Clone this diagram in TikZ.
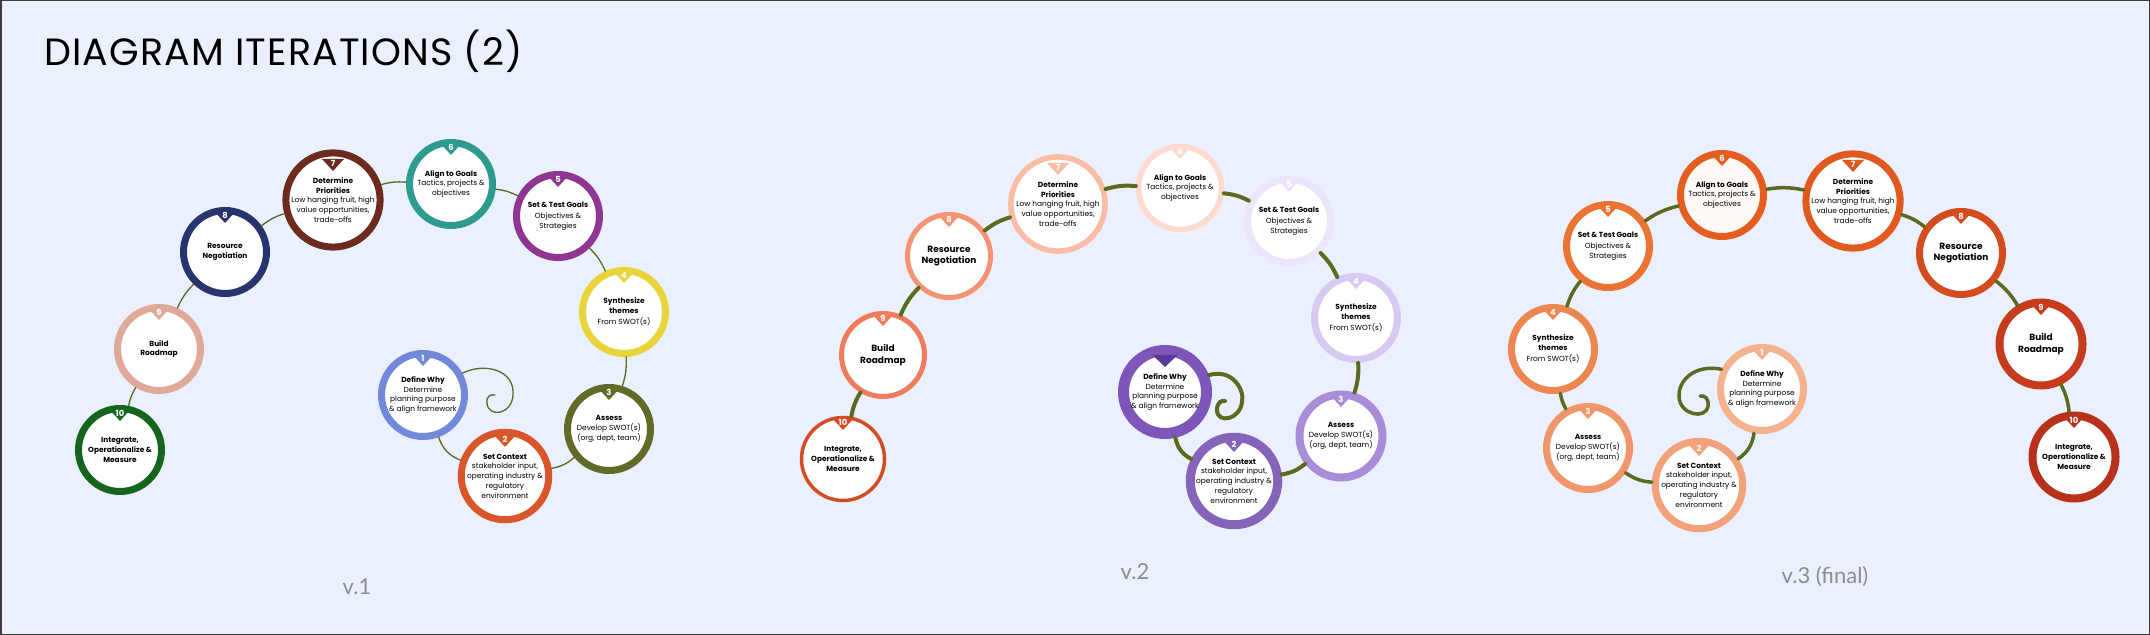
\documentclass[tikz,border=0pt]{standalone}
\usepackage{fontspec}
\setmainfont{Poppins}
\newfontfamily\verfont{Lato}
\newfontfamily\titlefont[LetterSpace=3]{Poppins}
\usetikzlibrary{calc}

\definecolor{bg}{HTML}{EAF0FD}
\definecolor{frame}{HTML}{3C3C3C}
\definecolor{vine}{HTML}{5A6A1E}
\definecolor{vergray}{HTML}{8C8C8C}
% v.1
\definecolor{one-1}{HTML}{7189D8}
\definecolor{one-2}{HTML}{D9562B}
\definecolor{one-3}{HTML}{5F6B27}
\definecolor{one-4}{HTML}{E9D43C}
\definecolor{one-5}{HTML}{8F3592}
\definecolor{one-6}{HTML}{2F9A8E}
\definecolor{one-7}{HTML}{6C2B1F}
\definecolor{one-8}{HTML}{28356C}
\definecolor{one-9}{HTML}{DEA999}
\definecolor{one-10}{HTML}{15651F}
% v.2
\definecolor{two-1}{HTML}{7D56B9}
\definecolor{two-1tab}{HTML}{5A3A98}
\definecolor{two-2}{HTML}{8463B9}
\definecolor{two-3}{HTML}{A98CD8}
\definecolor{two-4}{HTML}{D8C9F2}
\definecolor{two-5}{HTML}{ECE5FB}
\definecolor{two-6}{HTML}{FDDACD}
\definecolor{two-7}{HTML}{F9BCA5}
\definecolor{two-8}{HTML}{F59373}
\definecolor{two-9}{HTML}{EF7C5B}
\definecolor{two-10}{HTML}{D54B24}
% v.3
\definecolor{three-1}{HTML}{F5B28E}
\definecolor{three-2}{HTML}{F2A17A}
\definecolor{three-3}{HTML}{F0966B}
\definecolor{three-4}{HTML}{ED8650}
\definecolor{three-5}{HTML}{EA7433}
\definecolor{three-6}{HTML}{E45E1F}
\definecolor{three-7}{HTML}{E1591F}
\definecolor{three-8}{HTML}{D44B1E}
\definecolor{three-9}{HTML}{C53B1B}
\definecolor{three-10}{HTML}{B8311B}

\begin{document}
\begin{tikzpicture}[x=0.5pt,y=-0.5pt,
  stage/.style={circle,draw=#1,fill=white,line width=3.5pt,minimum size=41.5pt,inner sep=0pt,align=center,font=\fontsize{3.7}{4.85}\selectfont},
  big/.style={font=\fontsize{4.5}{5.9}\selectfont},
  num/.style={text=white,inner sep=0pt,font=\fontsize{4.2}{4.2}\selectfont\bfseries},
  vine/.style={draw=vine,line width=#1,line cap=round},
  vine/.default=0.65pt,
  ver/.style={text=vergray,font=\verfont\fontsize{11}{12}\selectfont}]
\useasboundingbox (0,0) rectangle (2150,635);
\fill[bg] (0,0) rectangle (2150,635);
\draw[frame,line width=0.75pt] (0.75,0.75) rectangle (2149.25,634.25);

\node[anchor=base west,inner sep=0pt,font=\titlefont\fontsize{19}{20}\selectfont] (title) at (44,66) {DIAGRAM ITERATIONS (2)};

% v.1
\node[stage=one-1] (a1) at (423,395) {\textbf{Define Why}\\Determine\\planning purpose\\\& align framework};
\node[stage=one-2] (a2) at (505,476) {\textbf{Set Context}\\stakeholder input,\\operating industry \&\\regulatory\\environment};
\node[stage=one-3] (a3) at (609,429) {\textbf{Assess}\\Develop SWOT(s)\\(org, dept, team)};
\node[stage=one-4] (a4) at (624,312) {\textbf{Synthesize}\\\textbf{themes}\\[1pt]From SWOT(s)};
\node[stage=one-5] (a5) at (558,216) {\textbf{Set \& Test Goals}\\[1pt]Objectives \&\\Strategies};
\node[stage=one-6] (a6) at (451,184) {\textbf{Align to Goals}\\Tactics, projects \&\\objectives};
\node[stage=one-7] (a7) at (333,200) {\textbf{Determine}\\\textbf{Priorities}\\Low hanging fruit, high\\value opportunities,\\trade-offs};
\node[stage=one-8] (a8) at (225,252) {\textbf{Resource}\\\textbf{Negotiation}};
\node[stage=one-9] (a9) at (159,349) {\textbf{Build}\\\textbf{Roadmap}};
\node[stage=one-10] (a10) at (120,450) {\textbf{Integrate,}\\\textbf{Operationalize \&}\\\textbf{Measure}};

\draw[vine] (a1) to[bend right=25] (a2) (a2) to[bend right=15] (a3) (a3) to[bend right=10] (a4)
  (a4) to[bend right=10] (a5) (a5) to[bend right=10] (a6) (a6) to[bend right=10] (a7)
  (a7) to[bend right=10] (a8) (a8) to[bend right=10] (a9) (a9) to[bend right=10] (a10);
\coordinate (a-end) at (495,395);
\draw[vine] (a1.29) .. controls (485,362) and (515,370) .. (513,395)
  .. controls (512,415) and (488,418) .. (487,403) .. controls (486,396) and (491,394) .. (a-end);
\foreach \n in {1,...,10} {
  \fill[one-\n] ($(a\n)+(-11,-41)$) -- ($(a\n)+(11,-41)$) -- ($(a\n)+(0,-29)$) -- cycle;
  \node[num] (a\n-no) at ($(a\n)+(0,-37)$) {\n};
}
\node[ver] (v1) at (357,587) {v.1};

% v.2
\node[stage=two-1,line width=5.5pt] (b1) at (1165,392) {\textbf{Define Why}\\Determine\\planning purpose\\\& align framework};
\node[stage=two-2,line width=4.5pt] (b2) at (1234,481) {\textbf{Set Context}\\stakeholder input,\\operating industry \&\\regulatory\\environment};
\node[stage=two-3,line width=4pt] (b3) at (1341,436) {\textbf{Assess}\\Develop SWOT(s)\\(org, dept, team)};
\node[stage=two-4] (b4) at (1356,318) {\textbf{Synthesize}\\\textbf{themes}\\[1pt]From SWOT(s)};
\node[stage=two-5] (b5) at (1289,221) {\textbf{Set \& Test Goals}\\[1pt]Objectives \&\\Strategies};
\node[stage=two-6,line width=2.75pt] (b6) at (1180,188) {\textbf{Align to Goals}\\Tactics, projects \&\\objectives};
\node[stage=two-7,line width=2.75pt] (b7) at (1058,204) {\textbf{Determine}\\\textbf{Priorities}\\Low hanging fruit, high\\value opportunities,\\trade-offs};
\node[stage=two-8,line width=2.5pt,big] (b8) at (949,256) {\textbf{Resource}\\\textbf{Negotiation}};
\node[stage=two-9,line width=2.5pt,big] (b9) at (883,355) {\textbf{Build}\\\textbf{Roadmap}};
\node[stage=two-10,line width=1.75pt] (b10) at (843,459) {\textbf{Integrate,}\\\textbf{Operationalize \&}\\\textbf{Measure}};

\draw[vine=2pt] (b1) to[bend right=25] (b2) (b2) to[bend right=15] (b3) (b3) to[bend right=10] (b4)
  (b4) to[bend right=10] (b5) (b5) to[bend right=10] (b6) (b6) to[bend right=10] (b7)
  (b7) to[bend right=10] (b8) (b8) to[bend right=10] (b9) (b9) to[bend right=10] (b10);
\coordinate (b-end) at (1225,401);
\draw[vine=2pt] (b1.21) .. controls (1232,368) and (1245,390) .. (1242,402)
  .. controls (1240,420) and (1217,424) .. (1217,410) .. controls (1217,403) and (1221,400) .. (b-end);
\fill[two-1tab] ($(b1)+(-12.5,-37)$) -- ($(b1)+(12.5,-37)$) -- ($(b1)+(0,-25)$) -- cycle;
\foreach \n in {2,...,10} {
  \fill[two-\n] ($(b\n)+(-11,-41)$) -- ($(b\n)+(11,-41)$) -- ($(b\n)+(0,-29)$) -- cycle;
  \node[num] (b\n-no) at ($(b\n)+(0,-37)$) {\n};
}
\node[ver] (v2) at (1135,572) {v.2};

% v.3
\node[stage=three-1] (c1) at (1762,389) {\textbf{Define Why}\\Determine\\planning purpose\\\& align framework};
\node[stage=three-2] (c2) at (1699,485) {\textbf{Set Context}\\stakeholder input,\\operating industry \&\\regulatory\\environment};
\node[stage=three-3] (c3) at (1588,448) {\textbf{Assess}\\Develop SWOT(s)\\(org, dept, team)};
\node[stage=three-4] (c4) at (1553,349) {\textbf{Synthesize}\\\textbf{themes}\\[1pt]From SWOT(s)};
\node[stage=three-5] (c5) at (1608,246) {\textbf{Set \& Test Goals}\\[1pt]Objectives \&\\Strategies};
\node[stage=three-6,fill={rgb,255:red,255;green,249;blue,246}] (c6) at (1722,195) {\textbf{Align to Goals}\\Tactics, projects \&\\objectives};
\node[stage=three-7] (c7) at (1853,201) {\textbf{Determine}\\\textbf{Priorities}\\Low hanging fruit, high\\value opportunities,\\trade-offs};
\node[stage=three-8,big] (c8) at (1961,253) {\textbf{Resource}\\\textbf{Negotiation}};
\node[stage=three-9,line width=4pt,big] (c9) at (2041,344) {\textbf{Build}\\\textbf{Roadmap}};
\node[stage=three-10,line width=4pt] (c10) at (2074,457) {\textbf{Integrate,}\\\textbf{Operationalize \&}\\\textbf{Measure}};

\draw[vine=1.75pt] (c1) to[bend left=23] (c2) (c2) to[bend left=15] (c3) (c3) to[bend left=10] (c4)
  (c4) to[bend left=10] (c5) (c5) to[bend left=10] (c6) (c6) to[bend left=10] (c7)
  (c7) to[bend left=10] (c8) (c8) to[bend left=10] (c9) (c9) to[bend left=10] (c10);
\coordinate (c-end) at (1700,396);
\draw[vine=1.75pt] (c1.154) .. controls (1695,364) and (1678,380) .. (1679,397)
  .. controls (1680,415) and (1706,420) .. (1708,406) .. controls (1709,398) and (1704,395) .. (c-end);
\foreach \n in {1,...,10} {
  \fill[three-\n] ($(c\n)+(-11,-41)$) -- ($(c\n)+(11,-41)$) -- ($(c\n)+(0,-29)$) -- cycle;
  \node[num] (c\n-no) at ($(c\n)+(0,-37)$) {\n};
}
\node[ver] (v3) at (1825,577) {v.3 (final)};
\end{tikzpicture}
\end{document}
